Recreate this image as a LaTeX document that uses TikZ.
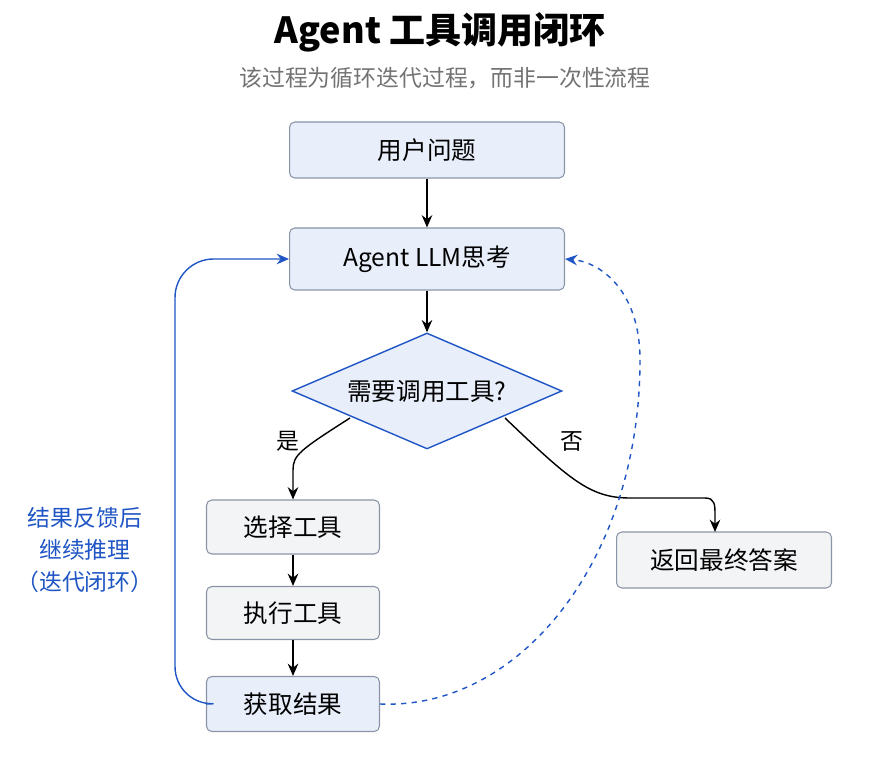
\documentclass[tikz,border=0pt]{standalone}
\usepackage{fontspec}
\setmainfont{Liberation Sans}
\newfontfamily\cjk{Noto Sans CJK SC}
\usetikzlibrary{shapes.geometric,arrows.meta}
\definecolor{bluefill}{HTML}{E8EEFA}
\definecolor{grayfill}{HTML}{F3F4F6}
\definecolor{bord}{HTML}{8A94A6}
\definecolor{loopblue}{HTML}{1F55C4}
\begin{document}
\begin{tikzpicture}[x=0.02cm,y=-0.02cm,
  box/.style={draw=bord,line width=0.6pt,rounded corners=3pt,font=\cjk\fontsize{14}{16}\selectfont,anchor=center},
  arr/.style={-{Stealth[length=7pt,width=6pt]},line width=0.8pt,black},
  barr/.style={-{Stealth[length=7pt,width=6pt]},line width=0.8pt,loopblue}]
\useasboundingbox (0,0) rectangle (879,759);
\node[font=\cjk\bfseries\fontsize{20.5}{24}\selectfont] (title) at (440,32) {Agent 工具调用闭环};
\node[font=\cjk\fontsize{13}{15}\selectfont,text=gray!90!black] (sub) at (445,78) {该过程为循环迭代过程，而非一次性流程};
\node[box,fill=bluefill,minimum width=5.5cm,minimum height=1.12cm] (q) at (427,150) {用户问题};
\node[box,fill=bluefill,minimum width=5.5cm,minimum height=1.24cm] (a) at (427,259) {Agent LLM思考};
\node[draw=loopblue,fill=bluefill,line width=0.8pt,diamond,aspect=2.33,minimum width=5.4cm,minimum height=2.32cm,inner sep=0pt,font=\cjk\fontsize{14}{16}\selectfont] (d) at (427,391) {需要调用工具?};
\node[box,fill=grayfill,minimum width=3.46cm,minimum height=1.08cm] (s) at (293,527) {选择工具};
\node[box,fill=grayfill,minimum width=3.46cm,minimum height=1.06cm] (e) at (293,613) {执行工具};
\node[box,fill=bluefill,minimum width=3.46cm,minimum height=1.1cm] (g) at (293,704) {获取结果};
\node[box,fill=grayfill,minimum width=4.3cm,minimum height=1.12cm] (r) at (724,560) {返回最终答案};
\draw[arr] (q) -- (a);
\draw[arr] (a) -- (d);
\draw[arr] (350,418) .. controls (300,450) and (293,455) .. (293,470) -- (s.north);
\node[font=\cjk\fontsize{13}{15}\selectfont] (yes) at (288,441) {是};
\draw[arr] (505,418) .. controls (570,480) and (590,498) .. (630,498) -- (705,498) .. controls (715,498) and (715,505) .. (715,515) -- (715,532);
\node[font=\cjk\fontsize{13}{15}\selectfont] (no) at (572,441) {否};
\draw[arr] (s) -- (e);
\draw[arr] (e) -- (g);
\draw[barr,rounded corners=22pt] (g.west) -- (175,705) -- (175,259) -- (a.west);
\draw[barr,dashed] (g.east) .. controls (520,710) and (640,560) .. (640,360) .. controls (640,290) and (600,262) .. (a.east);
\node[font=\cjk\fontsize{13}{15}\selectfont,text=loopblue,align=center] (lbl) at (85,550) {结果反馈后\\[3pt]继续推理\\[3pt]（迭代闭环）};
\end{tikzpicture}
\end{document}
